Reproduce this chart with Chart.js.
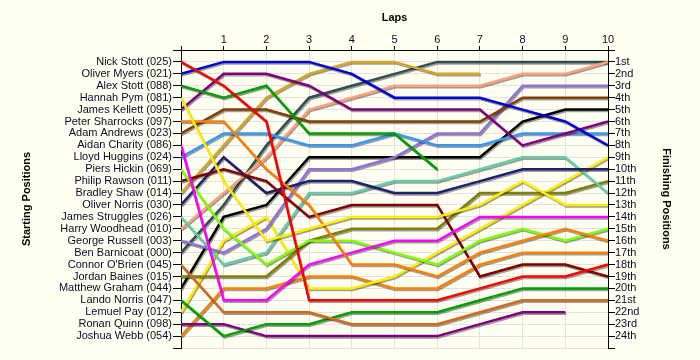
<!DOCTYPE html>
<html>
<head>
<meta charset="utf-8">
<script src="https://cdn.jsdelivr.net/npm/chart.js@4.4.1/dist/chart.umd.min.js"></script>
<style>
  html, body { margin: 0; padding: 0; background: #FFFFF2; }
  #wrap { width: 700px; height: 360px; }
</style>
</head>
<body>
<div id="wrap"><canvas id="lapChart" width="700" height="360"></canvas></div>
<script>
// ── Lap chart: position of every driver at the end of each lap ──

const laps = [0, 1, 2, 3, 4, 5, 6, 7, 8, 9, 10];

const startingGrid = [
  'Nick Stott (025)', 'Oliver Myers (021)', 'Alex Stott (088)', 'Hannah Pym (081)',
  'James Kellett (095)', 'Peter Sharrocks (097)', 'Adam Andrews (023)', 'Aidan Charity (086)',
  'Lloyd Huggins (024)', 'Piers Hickin (069)', 'Philip Rawson (011)', 'Bradley Shaw (014)',
  'Oliver Norris (030)', 'James Struggles (026)', 'Harry Woodhead (010)', 'George Russell (003)',
  'Ben Barnicoat (000)', "Connor O'Brien (045)", 'Jordan Baines (015)', 'Matthew Graham (044)',
  'Lando Norris (047)', 'Lemuel Pay (012)', 'Ronan Quinn (098)', 'Joshua Webb (054)'
];

const finishLabels = [
  '1st', '2nd', '3rd', '4th', '5th', '6th', '7th', '8th', '9th', '10th', '11th', '12th',
  '13th', '14th', '15th', '16th', '17th', '18th', '19th', '20th', '21st', '22nd', '23rd', '24th'
];

// one row per driver, in starting order; short rows = retired
const positions = [
  [1, 3, 6, 21, 21, 21, 21, 20, 19, 19, 18],
  [2, 1, 1, 1, 2, 4, 4, 4, 5, 6, 8],
  [3, 4, 3, 7, 7, 7, 10],
  [4, 11, 16, 15, 14, 14, 14, 13, 11, 13, 13],
  [5, 2, 2, 3, 5, 5, 5, 5, 8, 7, 6],
  [6, 6, 10, 13, 18, 18, 19, 17, 16, 15, 16],
  [7, 5, 5, 6, 6, 6, 6, 6, 4, 4, 4],
  [8, 21, 21, 18, 17, 16, 16, 14, 14, 14, 14],
  [9, 7, 7, 8, 8, 7, 8, 8, 7, 7, 7],
  [10, 15, 18, 16, 16, 17, 18, 16, 15, 16, 15],
  [11, 10, 11, 14, 13, 13, 13, 19, 18, 18, 19],
  [12, 8, 4, 2, 1, 1, 2, 2],
  [13, 9, 12, 11, 11, 12, 12, 11, 10, 10, 10],
  [14, 18, 17, 12, 12, 11, 11, 10, 9, 9, 12],
  [15, 12, 9, 5, 4, 3, 3, 3, 2, 2, 1],
  [16, 17, 15, 10, 10, 9, 7, 7, 3, 3, 3],
  [17, 13, 8, 4, 3, 2, 1, 1, 1, 1, 1],
  [18, 22, 22, 22, 23, 23, 23, 22, 21, 21, 21],
  [19, 19, 19, 16, 15, 15, 15, 12, 12, 12, 11],
  [20, 14, 13, 9, 9, 9, 9, 9, 6, 5, 5],
  [21, 24, 23, 23, 22, 22, 22, 21, 20, 20, 20],
  [22, 16, 14, 20, 20, 19, 17, 15, 13, 11, 9],
  [23, 23, 24, 24, 24, 24, 24, 23, 22, 22],
  [24, 20, 20, 19, 19, 20, 20, 18, 17, 17, 17]
];

const lineColors = [
  '#FF0000', '#0000DD', '#00A000', '#FFEE00', '#800080', '#FF8000',
  '#804000', '#FF00FF', '#3399FF', '#80FF00', '#800000', '#DAA520',
  '#202070', '#66CDAA', '#FFA07A', '#9370DB', '#2F4F4F', '#D2691E',
  '#808000', '#000000', '#00A000', '#FFEE00', '#800080', '#FF8000'
];

const FONT_FAMILY = "'Liberation Sans', Arial, sans-serif";
const TEXT_COLOR = '#0A0A28';
const GRID_COLOR = '#E2E2E2';

/** grey drop shadow under every line */
const lineShadow = {
  id: 'lineShadow',
  beforeDatasetDraw(chart) {
    const ctx = chart.ctx;
    ctx.save();
    ctx.shadowColor = 'rgba(0,0,0,0.38)';
    ctx.shadowOffsetX = 1;
    ctx.shadowOffsetY = 1.5;
    ctx.shadowBlur = 0;
  },
  afterDatasetDraw(chart) {
    chart.ctx.restore();
  }
};

const datasets = positions.map((row, i) => ({
  label: startingGrid[i],
  data: row.map((p, lap) => ({ x: laps[lap], y: p })),
  borderColor: lineColors[i],
  backgroundColor: lineColors[i],
  borderWidth: 2.5,
  pointRadius: 0,
  tension: 0,
  fill: false
}));

const tickFont = { family: FONT_FAMILY, size: 11 };
const titleFont = { family: FONT_FAMILY, size: 11, weight: 'bold' };

new Chart(document.getElementById('lapChart').getContext('2d'), {
  type: 'line',
  data: { datasets },
  plugins: [lineShadow],
  options: {
    responsive: false,
    animation: false,
    devicePixelRatio: 1,
    layout: { padding: { left: 0, right: 0, top: 0, bottom: 12 } },
    plugins: { legend: { display: false }, tooltip: { enabled: false } },
    scales: {
      x: {
        type: 'linear',
        position: 'top',
        min: 0,
        max: 10,
        afterFit(s) { s.height = 50; },
        ticks: {
          stepSize: 1,
          autoSkip: false,
          maxRotation: 0,
          padding: -1,
          color: TEXT_COLOR,
          font: tickFont,
          callback: v => (v === 0 ? '' : String(v))
        },
        grid: { color: GRID_COLOR, tickColor: '#000', tickLength: 4 },
        border: { color: '#000', width: 1 },
        title: { display: true, text: 'Laps', color: '#000', font: titleFont, padding: { top: 11 } }
      },
      y: {
        type: 'linear',
        position: 'left',
        reverse: true,
        min: 0,
        max: 25,
        afterFit(s) { s.width = 181; },
        ticks: {
          stepSize: 1,
          autoSkip: false,
          padding: 1,
          color: TEXT_COLOR,
          font: tickFont,
          callback: v => startingGrid[v - 1] || ''
        },
        grid: { color: GRID_COLOR, tickColor: '#000', tickLength: 8 },
        border: { color: '#000', width: 1 },
        title: { display: true, text: 'Starting Positions', color: '#000', font: titleFont, padding: { top: 20 } }
      },
      y2: {
        type: 'linear',
        position: 'right',
        reverse: true,
        min: 0,
        max: 25,
        afterFit(s) { s.width = 92; },
        ticks: {
          stepSize: 1,
          autoSkip: false,
          padding: 0,
          color: TEXT_COLOR,
          font: tickFont,
          callback: v => finishLabels[v - 1] || ''
        },
        grid: { drawOnChartArea: false, tickColor: '#000', tickLength: 7 },
        border: { color: '#000', width: 1 },
        title: { display: true, text: 'Finishing Positions', color: '#000', font: titleFont, padding: { top: 27 } }
      }
    }
  }
});
</script>
</body>
</html>
